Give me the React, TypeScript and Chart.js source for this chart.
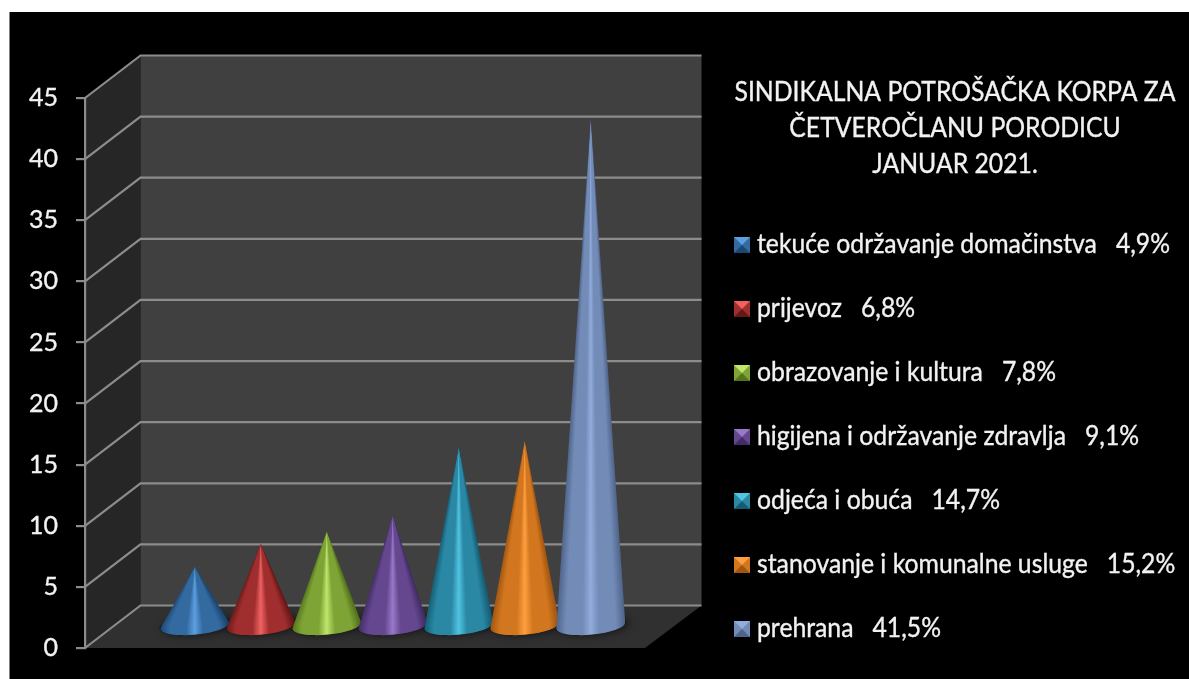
import React, { useEffect, useRef } from "react";
import { Chart, registerables } from "chart.js";

Chart.register(...registerables);

const seriesNames = [
  "tekuće održavanje domačinstva",
  "prijevoz",
  "obrazovanje i kultura",
  "higijena i održavanje zdravlja",
  "odjeća i obuća",
  "stanovanje i komunalne usluge",
  "prehrana",
];
const seriesValues = [4.9, 6.8, 7.8, 9.1, 14.7, 15.2, 41.5];
const categories = ["Januar 2021."];
const titleLines = ["SINDIKALNA POTROŠAČKA KORPA ZA", "ČETVEROČLANU PORODICU", "JANUAR 2021."];
const edgeColors = ["#1c4674", "#651818", "#54731c", "#412c63", "#145c72", "#a05510", "#4f648a"];
const midColors = ["#336a9f", "#a02e2e", "#7ea436", "#64478f", "#2a88a4", "#d2771f", "#728bb7"];
const lightColors = ["#5c9fe2", "#f06262", "#c0e66c", "#9a78c8", "#50c4e2", "#ff9f3f", "#92acdc"];

const FONT = "Lato, Carlito, sans-serif";
const DEPTH_X = 55.5;
const DEPTH_Y = -42.5;
const TEXT_COLOR = "#f2f2f2";
const GRID_COLOR = "#8c8c8c";

function drawText(ctx: CanvasRenderingContext2D, s: string, x: number, y: number, sx: number, align: CanvasTextAlign) {
  ctx.save();
  ctx.translate(x, y);
  ctx.scale(sx, 1);
  ctx.textAlign = align;
  ctx.textBaseline = "alphabetic";
  ctx.fillText(s, 0, 0);
  ctx.lineWidth = 0.35;
  ctx.strokeStyle = TEXT_COLOR;
  ctx.strokeText(s, 0, 0);
  ctx.restore();
}

const wallsPlugin = {
  id: "walls3d",
  beforeDraw(chart: any) {
    const { ctx, chartArea: a, scales } = chart;
    const y = scales.y;
    ctx.save();
    ctx.fillStyle = "#ffffff";
    ctx.fillRect(0, 0, chart.width, chart.height);
    ctx.fillStyle = "#000000";
    ctx.fillRect(9.5, 12, chart.width, chart.height);
    const bx = a.left + DEPTH_X;
    const rx = a.right + DEPTH_X + 1;
    const poly = (pts: number[][], c: string) => {
      ctx.fillStyle = c;
      ctx.beginPath();
      pts.forEach((p, i) => (i ? ctx.lineTo(p[0], p[1]) : ctx.moveTo(p[0], p[1])));
      ctx.closePath();
      ctx.fill();
    };
    poly([[a.left, a.top], [bx, a.top + DEPTH_Y], [bx, a.bottom + DEPTH_Y], [a.left, a.bottom]], "#262626");
    poly([[bx, a.top + DEPTH_Y], [rx, a.top + DEPTH_Y], [rx, a.bottom + DEPTH_Y], [bx, a.bottom + DEPTH_Y]], "#404040");
    poly([[a.left, a.bottom], [bx, a.bottom + DEPTH_Y], [rx, a.bottom + DEPTH_Y], [a.right, a.bottom]], "#303030");
    ctx.strokeStyle = GRID_COLOR;
    ctx.lineWidth = 2.2;
    y.ticks.forEach((t: any) => {
      const py = y.getPixelForValue(t.value);
      ctx.beginPath();
      ctx.moveTo(a.left, py);
      ctx.lineTo(bx, py + DEPTH_Y);
      ctx.lineTo(rx, py + DEPTH_Y);
      ctx.stroke();
    });
    ctx.restore();
  },
};

const conesPlugin = {
  id: "cones3d",
  afterDatasetsDraw(chart: any) {
    const { ctx } = chart;
    chart.data.datasets.forEach((_: any, i: number) => {
      const el = chart.getDatasetMeta(i).data[0];
      const cx = el.x + DEPTH_X / 2;
      const tipY = el.y + DEPTH_Y / 2;
      const baseY = el.base + DEPTH_Y / 2;
      const rx = el.width / 2 + 1.5;
      const ry = 9;
      const rot = -0.09;
      const edge = edgeColors[i];
      const mid = midColors[i];
      const light = lightColors[i];
      ctx.save();
      ctx.shadowColor = "rgba(0,0,0,0.75)";
      ctx.shadowBlur = 9;
      ctx.shadowOffsetX = 3;
      ctx.fillStyle = "rgba(20,20,20,0.8)";
      ctx.beginPath();
      ctx.ellipse(cx, baseY, rx + 1, ry, rot, 0, Math.PI * 2);
      ctx.fill();
      ctx.restore();

      ctx.save();
      ctx.beginPath();
      ctx.ellipse(cx, baseY, rx, ry, rot, Math.PI, 0, true);
      ctx.lineTo(cx, tipY);
      ctx.closePath();
      ctx.clip();
      const bottom = baseY + ry + 4;
      for (let y = Math.floor(tipY) - 1; y < bottom; y += 1) {
        const f = Math.min(1, Math.max(0.004, (y + 0.5 - tipY) / (baseY - tipY)));
        const w = rx * f;
        const g = ctx.createLinearGradient(cx - w, 0, cx + w, 0);
        g.addColorStop(0, edge);
        g.addColorStop(0.14, mid);
        g.addColorStop(0.38, mid);
        g.addColorStop(0.5, light);
        g.addColorStop(0.62, mid);
        g.addColorStop(0.86, mid);
        g.addColorStop(1, edge);
        ctx.fillStyle = g;
        ctx.fillRect(cx - rx - 2, y, 2 * rx + 4, 1.5);
      }
      ctx.restore();
    });
  },
};

const sidePanelPlugin = {
  id: "sidePanel",
  afterDraw(chart: any) {
    const { ctx } = chart;
    ctx.save();
    ctx.fillStyle = TEXT_COLOR;
    ctx.font = `26px ${FONT}`;
    const titleBase = [100.5, 137, 172.5];
    titleLines.forEach((l, i) => drawText(ctx, l, 955, titleBase[i], 0.952, "center"));
    chart.data.datasets.forEach((d: any, i: number) => {
      const base = 253 + i * 64;
      const top = base - 16;
      const x = 734;
      const s = 16;
      ctx.fillStyle = midColors[i];
      ctx.fillRect(x, top, s, s);
      ctx.fillStyle = edgeColors[i];
      ctx.beginPath();
      ctx.moveTo(x, top + s);
      ctx.lineTo(x + s / 2, top + s / 2);
      ctx.lineTo(x + s, top + s);
      ctx.closePath();
      ctx.fill();
      ctx.fillStyle = lightColors[i];
      ctx.beginPath();
      ctx.moveTo(x, top);
      ctx.lineTo(x + s, top);
      ctx.lineTo(x + s / 2, top + s / 2);
      ctx.closePath();
      ctx.fill();
      ctx.fillStyle = TEXT_COLOR;
      const pct = `${d.data[0].toFixed(1).replace(".", ",")}%`;
      drawText(ctx, `${d.label}   ${pct}`, 757, base, 0.952, "left");
    });
    ctx.restore();
  },
};

export default function App() {
  const ref = useRef<HTMLCanvasElement>(null);
  useEffect(() => {
    const chart = new Chart(ref.current!, {
      type: "bar",
      data: {
        labels: categories,
        datasets: seriesNames.map((label, i) => ({
          label,
          data: [seriesValues[i]],
          backgroundColor: "rgba(0,0,0,0)",
          borderWidth: 0,
        })),
      },
      options: {
        responsive: false,
        animation: false,
        layout: { padding: { left: 0, top: 98, right: 544, bottom: 31 } },
        plugins: { legend: { display: false }, title: { display: false }, tooltip: { enabled: false } },
        datasets: { bar: { categoryPercentage: 0.825, barPercentage: 1 } },
        scales: {
          x: { display: false, grid: { display: false } },
          y: {
            min: 0,
            max: 45,
            afterFit(scale: any) {
              scale.width = 85;
            },
            ticks: {
              stepSize: 5,
              color: TEXT_COLOR,
              padding: 18,
              font: { family: FONT, size: 25, lineHeight: 1 },
              textStrokeColor: TEXT_COLOR,
              textStrokeWidth: 0.35,
            },
            grid: { drawOnChartArea: false, color: GRID_COLOR, lineWidth: 2.2, tickLength: 9 },
            border: { color: GRID_COLOR, width: 2.2 },
          },
        },
      } as any,
      plugins: [wallsPlugin, conesPlugin, sidePanelPlugin],
    });
    return () => chart.destroy();
  }, []);
  return (
    <canvas
      ref={ref}
      width={1189}
      height={679}
      style={{ position: "fixed", left: 0, top: 0, width: 1189, height: 679, filter: "blur(0.6px)" }}
    />
  );
}
